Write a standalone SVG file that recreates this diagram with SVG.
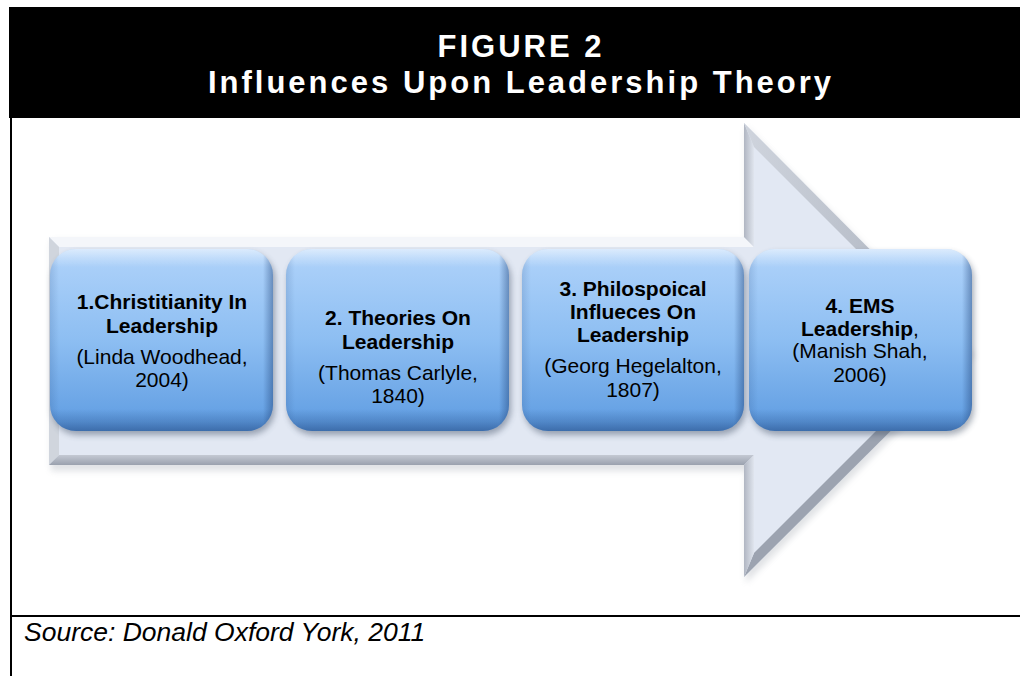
<svg xmlns="http://www.w3.org/2000/svg" width="1020" height="676" viewBox="0 0 1020 676">
  <style>
    .title { font-family: "Liberation Sans", Arial, sans-serif; font-weight: bold; font-size: 31px; fill: #ffffff; letter-spacing: 3px; }
    .hd { font-family: "Liberation Sans", Arial, sans-serif; font-weight: bold; font-size: 21px; fill: #000; }
    .sub { font-family: "Liberation Sans", Arial, sans-serif; font-weight: normal; font-size: 21px; fill: #000; }
    .src { font-family: "Liberation Sans", Arial, sans-serif; font-style: italic; font-size: 26.5px; fill: #000; }
    .frame { stroke: #000; stroke-width: 2; fill: none; }
  </style>
  <defs>
    <linearGradient id="boxFill" x1="0" y1="0" x2="0" y2="1">
      <stop offset="0" stop-color="#b0d3fa"/>
      <stop offset="0.5" stop-color="#8dbef2"/>
      <stop offset="1" stop-color="#5d9be1"/>
    </linearGradient>
    <linearGradient id="bevelV" x1="0" y1="0" x2="0" y2="1">
      <stop offset="0" stop-color="#ffffff" stop-opacity="0.55"/>
      <stop offset="0.05" stop-color="#ffffff" stop-opacity="0.25"/>
      <stop offset="0.1" stop-color="#ffffff" stop-opacity="0"/>
      <stop offset="0.88" stop-color="#1c3f75" stop-opacity="0"/>
      <stop offset="0.95" stop-color="#1c3f75" stop-opacity="0.25"/>
      <stop offset="1" stop-color="#1c3f75" stop-opacity="0.5"/>
    </linearGradient>
    <linearGradient id="bevelH" x1="0" y1="0" x2="1" y2="0">
      <stop offset="0" stop-color="#1c3f75" stop-opacity="0.15"/>
      <stop offset="0.04" stop-color="#1c3f75" stop-opacity="0"/>
      <stop offset="0.955" stop-color="#1c3f75" stop-opacity="0"/>
      <stop offset="1" stop-color="#1c3f75" stop-opacity="0.45"/>
    </linearGradient>
    <linearGradient id="headTop" x1="0" y1="0" x2="1" y2="0">
      <stop offset="0" stop-color="#cfd4dd"/>
      <stop offset="1" stop-color="#a6adb9"/>
    </linearGradient>
    <linearGradient id="headSide" x1="0" y1="0" x2="1" y2="0">
      <stop offset="0" stop-color="#b0b6c2"/>
      <stop offset="1" stop-color="#e0e5ee"/>
    </linearGradient>
    <linearGradient id="bodyLow" x1="0" y1="0" x2="0" y2="1">
      <stop offset="0" stop-color="#c4c9d3"/>
      <stop offset="1" stop-color="#9aa1ae"/>
    </linearGradient>
    <filter id="softShadow" x="-10%" y="-10%" width="120%" height="130%">
      <feGaussianBlur stdDeviation="3"/>
    </filter>
  </defs>

  <!-- header band and frame -->
  <rect x="9" y="7" width="1011" height="111" fill="#000"/>
  <text class="title" x="521" y="57" text-anchor="middle">FIGURE 2</text>
  <text class="title" x="521" y="93" text-anchor="middle">Influences Upon Leadership Theory</text>
  <line class="frame" x1="11" y1="118" x2="11" y2="676"/>
  <line class="frame" x1="10" y1="616" x2="1020" y2="616"/>

  <!-- bevelled process arrow -->
  <g id="arrow">
    <polygon points="51,241 746,241 746,127 975,355 746,583 746,471 51,471" fill="#9aa0aa" opacity="0.3" filter="url(#softShadow)"/>
    <polygon points="49,237 744,237 744,123 971,351 744,577 744,465 49,465" fill="#e2e8f3"/>
    <polygon points="49,237 744,237 754,247 59,247" fill="#f4f6fa"/>
    <polygon points="49,237 59,247 59,455 49,465" fill="#d0d5dd"/>
    <polygon points="49,465 59,455 754,455 744,465" fill="url(#bodyLow)"/>
    <polygon points="744,123 754,147 754,247 744,237" fill="url(#headSide)"/>
    <polygon points="744,123 971,351 957,350 754,147" fill="url(#headTop)"/>
    <polygon points="971,351 744,577 754,553 957,350" fill="#9ca3b0"/>
    <polygon points="744,465 754,455 754,553 744,577" fill="url(#headSide)"/>
  </g>

  <!-- step boxes -->
  <g id="step1">
    <rect x="52" y="253" width="223" height="182" rx="26" fill="#3a4a60" opacity="0.45" filter="url(#softShadow)"/>
    <rect x="50" y="249" width="223" height="182" rx="26" fill="url(#boxFill)"/>
    <rect x="50" y="249" width="223" height="182" rx="26" fill="url(#bevelV)"/>
    <rect x="50" y="249" width="223" height="182" rx="26" fill="url(#bevelH)"/>
    <text class="hd" x="162" y="309" text-anchor="middle">1.Christitianity In</text>
    <text class="hd" x="162" y="333" text-anchor="middle">Leadership</text>
    <text class="sub" x="162" y="364" text-anchor="middle">(Linda Woodhead,</text>
    <text class="sub" x="162" y="387" text-anchor="middle">2004)</text>
  </g>
  <g id="step2">
    <rect x="288" y="253" width="223" height="182" rx="26" fill="#3a4a60" opacity="0.45" filter="url(#softShadow)"/>
    <rect x="286" y="249" width="223" height="182" rx="26" fill="url(#boxFill)"/>
    <rect x="286" y="249" width="223" height="182" rx="26" fill="url(#bevelV)"/>
    <rect x="286" y="249" width="223" height="182" rx="26" fill="url(#bevelH)"/>
    <text class="hd" x="398" y="325" text-anchor="middle">2. Theories On</text>
    <text class="hd" x="398" y="349" text-anchor="middle">Leadership</text>
    <text class="sub" x="398" y="380" text-anchor="middle">(Thomas Carlyle,</text>
    <text class="sub" x="398" y="403" text-anchor="middle">1840)</text>
  </g>
  <g id="step3">
    <rect x="524" y="253" width="222" height="182" rx="26" fill="#3a4a60" opacity="0.45" filter="url(#softShadow)"/>
    <rect x="522" y="249" width="222" height="182" rx="26" fill="url(#boxFill)"/>
    <rect x="522" y="249" width="222" height="182" rx="26" fill="url(#bevelV)"/>
    <rect x="522" y="249" width="222" height="182" rx="26" fill="url(#bevelH)"/>
    <text class="hd" x="633" y="296" text-anchor="middle">3. Philospoical</text>
    <text class="hd" x="633" y="319" text-anchor="middle">Influeces On</text>
    <text class="hd" x="633" y="342" text-anchor="middle">Leadership</text>
    <text class="sub" x="633" y="373" text-anchor="middle">(Georg Hegelalton,</text>
    <text class="sub" x="633" y="397" text-anchor="middle">1807)</text>
  </g>
  <g id="step4">
    <rect x="751" y="253" width="223" height="182" rx="26" fill="#3a4a60" opacity="0.45" filter="url(#softShadow)"/>
    <rect x="749" y="249" width="223" height="182" rx="26" fill="url(#boxFill)"/>
    <rect x="749" y="249" width="223" height="182" rx="26" fill="url(#bevelV)"/>
    <rect x="749" y="249" width="223" height="182" rx="26" fill="url(#bevelH)"/>
    <text class="hd" x="860" y="313" text-anchor="middle">4. EMS</text>
    <text class="hd" x="860" y="336" text-anchor="middle">Leadership<tspan class="sub">,</tspan></text>
    <text class="sub" x="860" y="358" text-anchor="middle">(Manish Shah,</text>
    <text class="sub" x="860" y="382" text-anchor="middle">2006)</text>
  </g>

  <!-- caption -->
  <text class="src" x="24" y="641">Source: Donald Oxford York, 2011</text>
</svg>
